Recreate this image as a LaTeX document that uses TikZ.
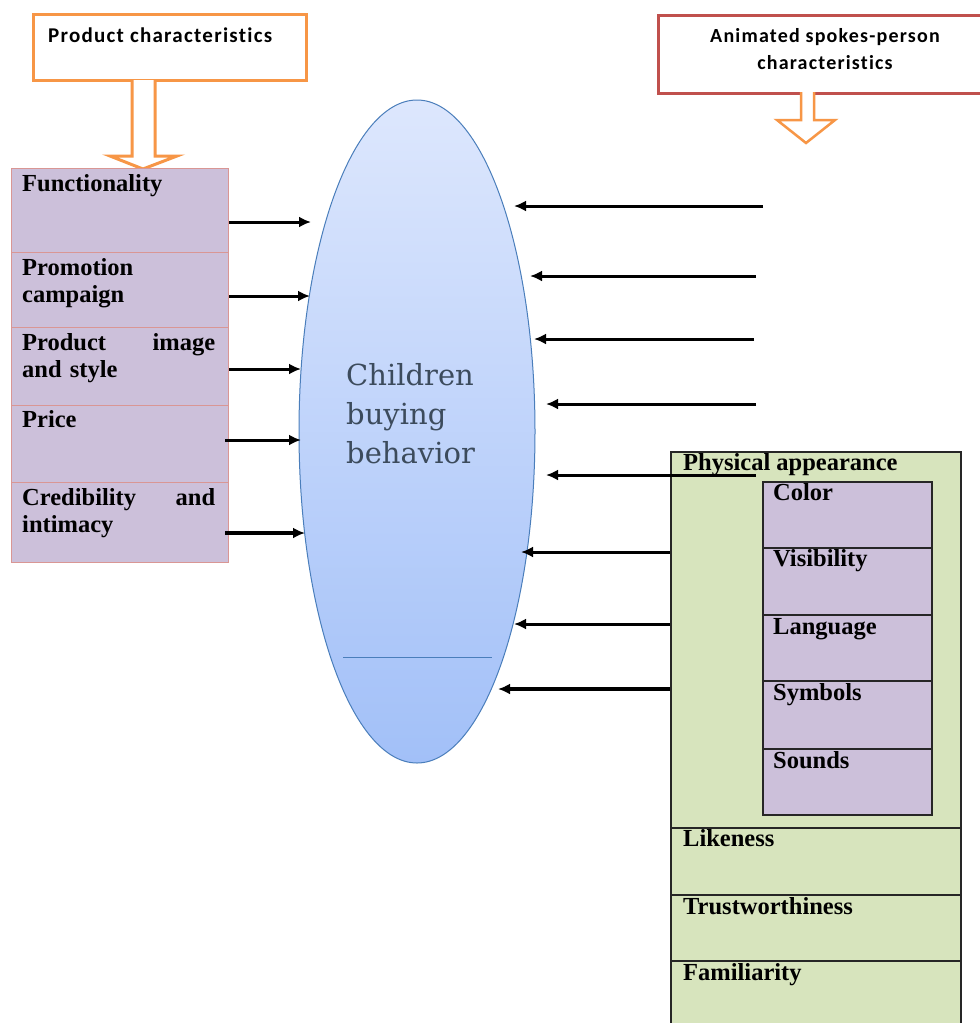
\documentclass[tikz,border=0pt]{standalone}
\usepackage{fontspec}
\setmainfont{Liberation Serif}
\newfontfamily\sansf[Ligatures=NoCommon,LetterSpace=6]{Carlito}
\newfontfamily\ellf{DejaVu Serif}
\usetikzlibrary{shapes.geometric,arrows.meta}
\definecolor{orng}{HTML}{F79646}
\definecolor{redb}{HTML}{C0504D}
\definecolor{lav}{HTML}{CCC0DA}
\definecolor{pinkb}{HTML}{D99694}
\definecolor{grn}{HTML}{D7E4BD}
\definecolor{elltop}{HTML}{DDE7FD}
\definecolor{ellbot}{HTML}{A2C0F8}
\definecolor{ellb}{HTML}{4A7EBB}
\definecolor{elltxt}{HTML}{3C4B5C}
\begin{document}
\begin{tikzpicture}[x=1pt,y=-1pt,
  lcell/.style={draw=pinkb,fill=lav,line width=1.2pt,rectangle,anchor=north west,inner sep=0,minimum width=217},
  gcell/.style={draw=black!85,fill=grn,line width=1.5pt,rectangle,anchor=north west,inner sep=0,minimum width=290},
  pcell/.style={draw=black!85,fill=lav,line width=1.5pt,rectangle,anchor=north west,inner sep=0,minimum width=169},
  btxt/.style={font=\bfseries\fontsize{24.5}{27}\selectfont,inner sep=0,anchor=base west},
  jtxt/.style={font=\bfseries\fontsize{24.5}{27}\selectfont,inner sep=0,anchor=north west,text width=193,align=left},
  arr/.style={line width=3pt,-{Latex[length=12pt,width=11pt]}},
  hollow/.style={draw=orng,line width=3pt,fill=white,line join=miter},
]
\clip (0,0) rectangle (980,1023);
\fill[white] (0,0) rectangle (980,1023);

% top boxes
\node[draw=orng,line width=3pt,rectangle,anchor=north west,minimum width=273,minimum height=66,inner sep=0] (pc) at (32,13) {};
\node[font=\sansf\bfseries\fontsize{21}{24}\selectfont,inner sep=0,anchor=west] (pct) at (48,35) {Product characteristics};
\draw[hollow] (132,80) -- (132,156) -- (110,156) -- (143,169) -- (177,156) -- (155,156) -- (155,80);

\node[draw=redb,line width=3pt,rectangle,anchor=north west,minimum width=340,minimum height=78,inner sep=0] (ac) at (657,14) {};
\node[font=\sansf\bfseries\fontsize{20}{27}\selectfont,inner sep=0,align=center] (act) at (825,49) {Animated spokes-person\\characteristics};
\draw[hollow,line width=2.5pt] (801,92) -- (801,120) -- (777,120) -- (806,143) -- (835,120) -- (814,120) -- (814,92);

% ellipse
\node[ellipse,draw=ellb,line width=1pt,top color=elltop,bottom color=ellbot,minimum width=236,minimum height=663,inner sep=0] (ell) at (417,431.5) {};
\node[font=\ellf\fontsize{29}{39}\selectfont,text=elltxt,inner sep=0,anchor=north west,align=left] (ellt) at (346,363) {Children\\buying\\behavior};
\draw[ellb,line width=1pt] (343,657) coordinate (ll) -- (492,657) coordinate (lr);

% left column
\node[lcell,minimum height=84] (c1) at (11,168) {};
\node[lcell,minimum height=75] (c2) at (11,252) {};
\node[lcell,minimum height=78] (c3) at (11,327) {};
\node[lcell,minimum height=77] (c4) at (11,405) {};
\node[lcell,minimum height=80] (c5) at (11,482) {};
\node[btxt] (t1) at (22,191) {Functionality};
\node[jtxt] (t2) at (22,258) {Promotion\\campaign};
\node[jtxt] (t3) at (22,333) {Product\hfill image\\and style};
\node[btxt] (t4) at (22,427) {Price};
\node[jtxt] (t5) at (22,488) {Credibility\hfill and\\intimacy};

\coordinate (e1) at (311,222);
\coordinate (e2) at (310,296);
\coordinate (e3) at (301,369);
\coordinate (e4) at (301,440);
\coordinate (e5) at (305,533);
\draw[arr] (c1.east |- e1) -- (e1);
\draw[arr] (c2.east |- e2) -- (e2);
\draw[arr] (c3.east |- e3) -- (e3);
\draw[arr] ([xshift=-4]c4.east |- e4) -- (e4);
\draw[arr,line width=4pt] ([xshift=-4]c5.east |- e5) -- (e5);

% right column
\node[gcell,minimum height=376] (g1) at (670,451) {};
\node[gcell,minimum height=67] (g2) at (670,827) {};
\node[gcell,minimum height=66] (g3) at (670,894) {};
\node[gcell,minimum height=80] (g4) at (670,960) {};
\node[btxt] (gt1) at (683,470) {Physical appearance};
\node[btxt] (gt2) at (683,846) {Likeness};
\node[btxt] (gt3) at (683,914) {Trustworthiness};
\node[btxt] (gt4) at (683,980) {Familiarity};

\node[pcell,minimum height=66] (p1) at (762,481) {};
\node[pcell,minimum height=67] (p2) at (762,547) {};
\node[pcell,minimum height=66] (p3) at (762,614) {};
\node[pcell,minimum height=68] (p4) at (762,680) {};
\node[pcell,minimum height=66] (p5) at (762,748) {};
\node[btxt] (pt1) at (773,500) {Color};
\node[btxt] (pt2) at (773,566) {Visibility};
\node[btxt] (pt3) at (773,634) {Language};
\node[btxt] (pt4) at (773,700) {Symbols};
\node[btxt] (pt5) at (773,768) {Sounds};

% right arrows
\coordinate (s1) at (763,206); \coordinate (r1) at (514,206);
\coordinate (s2) at (756,276); \coordinate (r2) at (530,276);
\coordinate (s3) at (754,339); \coordinate (r3) at (534,339);
\coordinate (s4) at (756,404); \coordinate (r4) at (546,404);
\coordinate (s5) at (756,475); \coordinate (r5) at (546,475);
\coordinate (r6) at (521,552);
\coordinate (r7) at (514,624);
\coordinate (r8) at (498,689);
\draw[arr] (s1) -- (r1);
\draw[arr] (s2) -- (r2);
\draw[arr] (s3) -- (r3);
\draw[arr] (s4) -- (r4);
\draw[arr] (s5) -- (r5);
\draw[arr] (g1.west |- r6) -- (r6);
\draw[arr] (g1.west |- r7) -- (r7);
\draw[arr,line width=3.6pt] (g1.west |- r8) -- (r8);
\end{tikzpicture}
\end{document}
